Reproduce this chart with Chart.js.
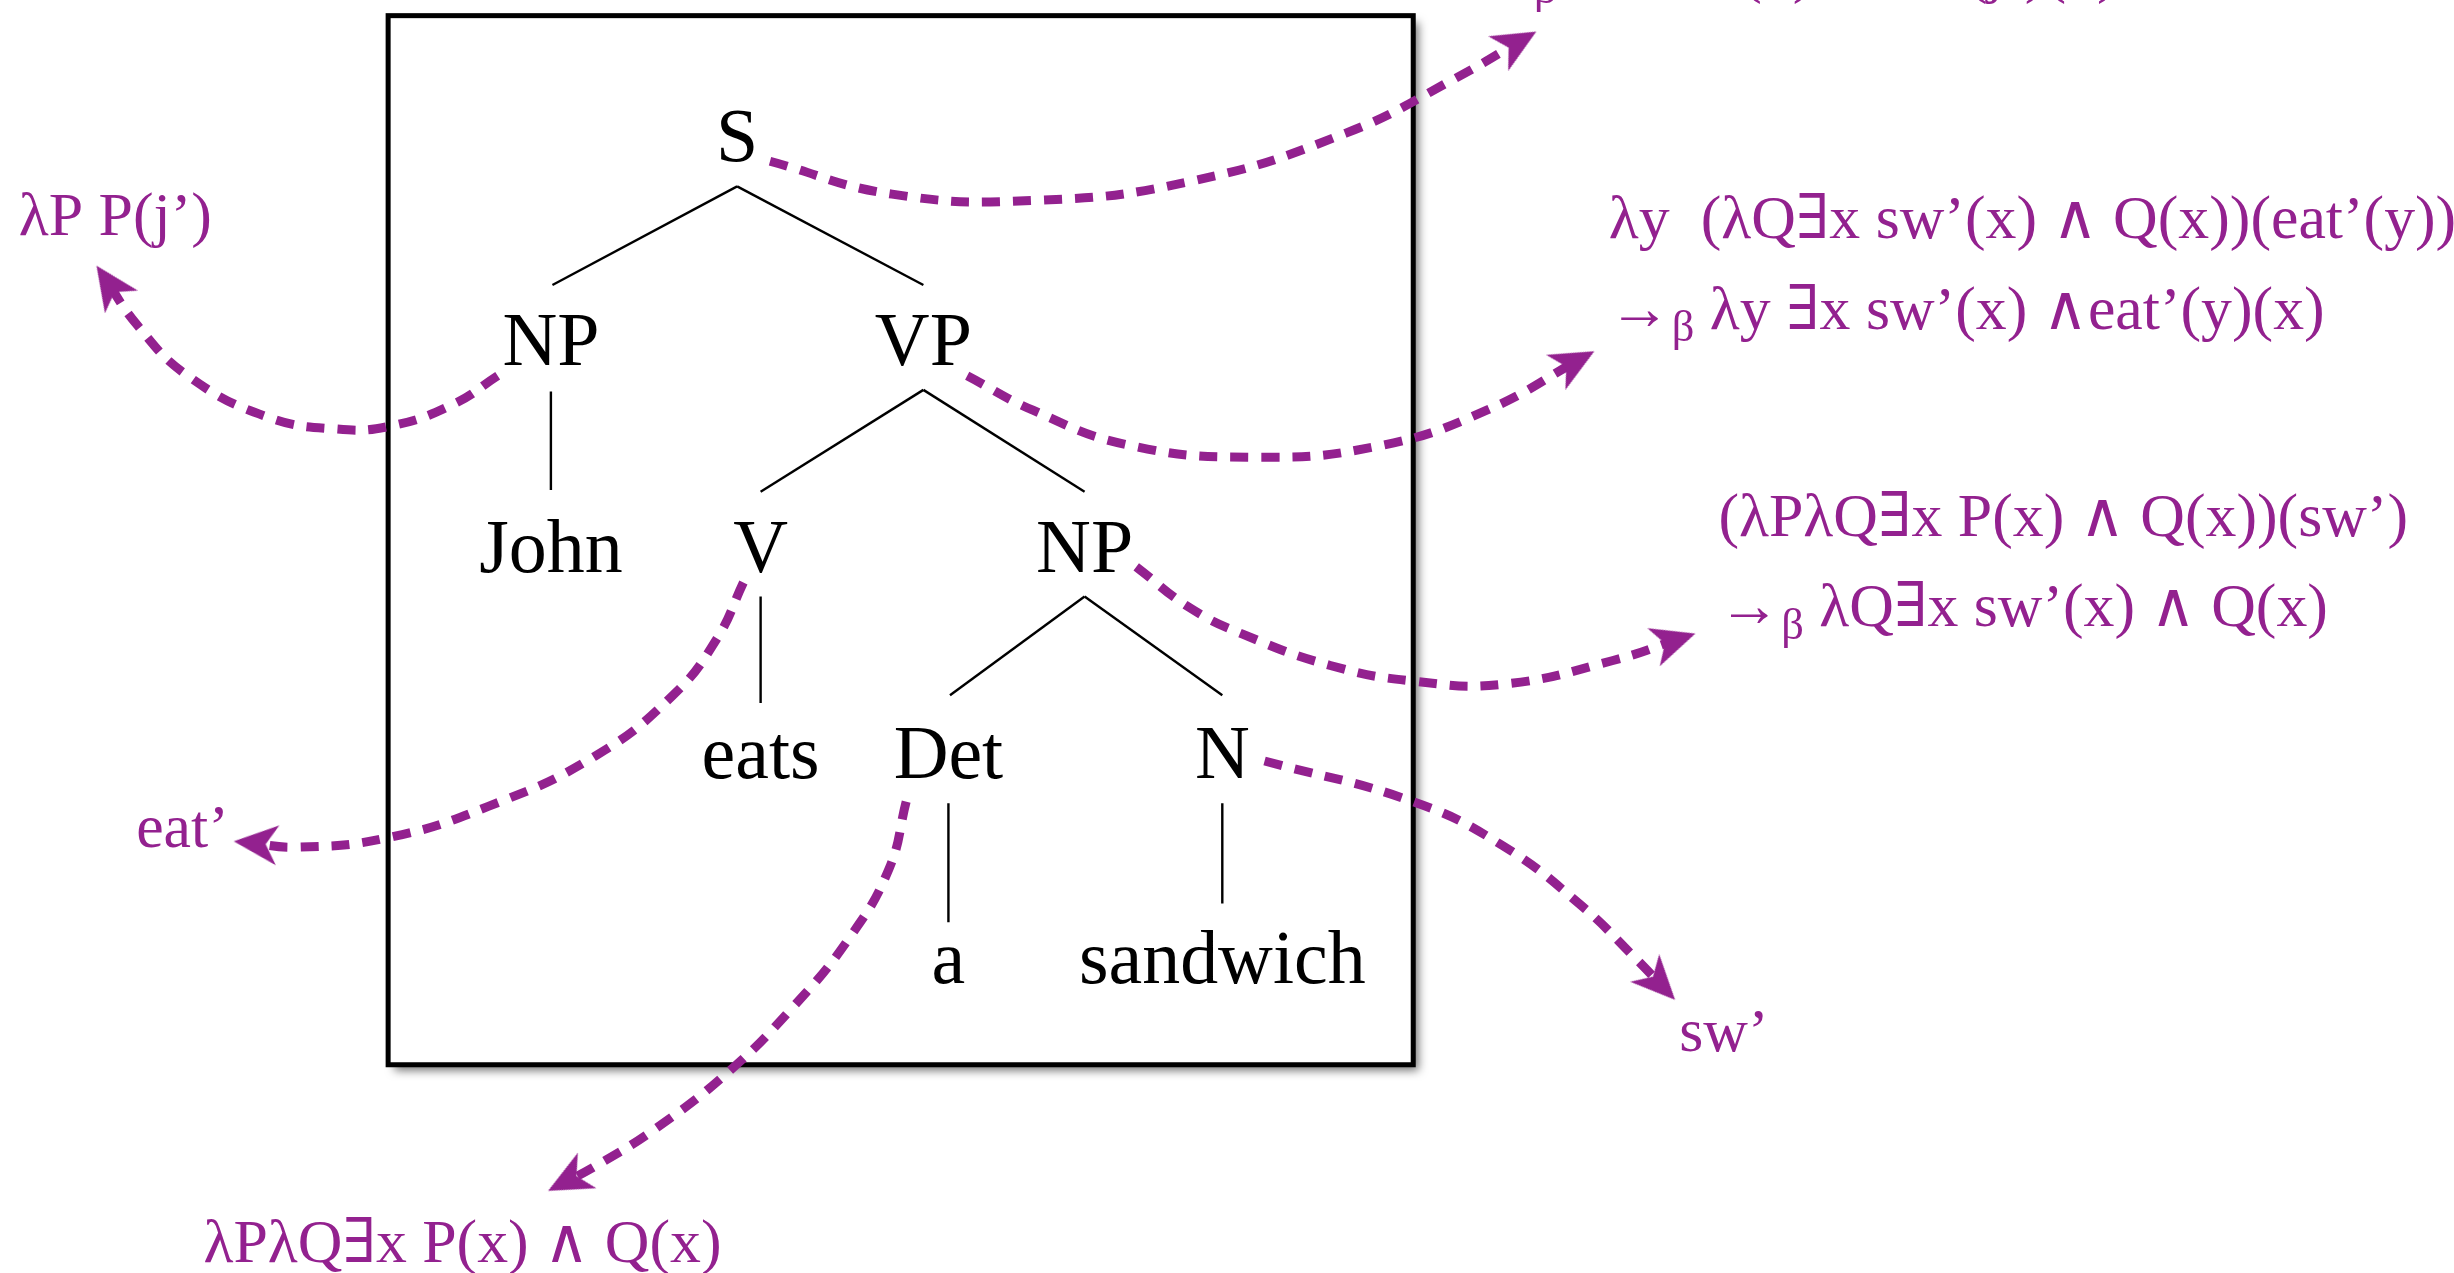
<!DOCTYPE html>
<html>
<head>
<meta charset="utf-8">
<script src="https://cdn.jsdelivr.net/npm/chart.js@4.4.1/dist/chart.umd.min.js"></script>
<style>
  html, body { margin: 0; padding: 0; background: #fff; overflow: hidden; }
  #wrap { width: 100vw; height: 100vh; }
</style>
</head>
<body>
<div id="wrap"><canvas id="tree"></canvas></div>
<script>
// data space: 1568 x 813 units, y grows downwards
const treeLabels = ['S', 'NP', 'VP', 'John', 'V', 'NP', 'eats', 'Det', 'N', 'a', 'sandwich'];
const treeX = [471, 352, 590, 352, 486, 693, 486, 606, 781, 606, 781];
const treeY = [103, 233, 233, 365, 365, 365, 497, 497, 497, 628, 628];

// branch segments [x1, y1, x2, y2]
const branches = [
  [471, 119, 353, 182], [471, 119, 590, 182],
  [352, 250, 352, 313],
  [590, 249, 486, 314], [590, 249, 693, 314],
  [486, 381, 486, 449],
  [693, 381, 607, 444], [693, 381, 781, 444],
  [606, 513, 606, 589], [781, 513, 781, 577]
];

const boxCorners = [[248, 10], [903, 680]];

// dashed arrows, last point is the arrow head
const arrowS = [[492, 103], [570, 124], [660, 128], [760, 116], [860, 85], [930, 50], [975, 24]];
const arrowNP = [[318, 240], [290, 258], [250, 272], [215, 274], [170, 266], [120, 240], [88, 208], [66, 176]];
const arrowVP = [[618, 240], [660, 262], [720, 284], [800, 292], [880, 285], [950, 262], [1012, 228]];
const arrowNP2 = [[726, 362], [760, 388], [794, 405], [850, 425], [903, 435], [960, 437], [1030, 422], [1076, 407]];
const arrowV = [[475, 372], [458, 408], [430, 444], [380, 483], [312, 515], [248, 535], [190, 541], [157, 538]];
const arrowN = [[808, 486], [903, 512], [960, 540], [1010, 578], [1045, 612], [1065, 633]];
const arrowDet = [[579, 512], [568, 555], [542, 600], [505, 645], [466, 684], [420, 720], [380, 745], [357, 757]];
const arrows = [arrowS, arrowNP, arrowVP, arrowNP2, arrowV, arrowN, arrowDet];

const noteTexts = [
  'λP P(j’)',
  'λy  (λQ∃x sw’(x) ∧ Q(x))(eat’(y))',
  '→β λy ∃x sw’(x) ∧eat’(y)(x)',
  '(λPλQ∃x P(x) ∧ Q(x))(sw’)',
  '→β λQ∃x sw’(x) ∧ Q(x)',
  'eat’',
  'sw’',
  'λPλQ∃x P(x) ∧ Q(x)',
  '→β ∃x sw’(x) ∧eat’(j’)(x)'
];
const noteX = [12, 1028, 1028, 1098, 1098, 87, 1073, 130, 940];
const noteY = [150, 152, 210, 342, 400, 541, 671, 806, -6];

const purple = '#93218f';
const k = window.innerWidth / 1568;

function makeHead() {
  const len = 44, wid = 40, notch = 12, off = 12;
  const c = document.createElement('canvas');
  const s = Math.ceil(2 * (len + off) + 4);
  c.width = s; c.height = s;
  const g = c.getContext('2d');
  const cx = s / 2, cy = s / 2;
  g.fillStyle = purple;
  g.beginPath();
  g.moveTo(cx, cy - off);
  g.lineTo(cx + wid / 2, cy - off + len);
  g.lineTo(cx, cy - off + len - notch);
  g.lineTo(cx - wid / 2, cy - off + len);
  g.closePath();
  g.fill();
  return c;
}
const headImg = makeHead();

function isLast(ctx) {
  return ctx.dataIndex === ctx.dataset.data.length - 1;
}

function headRotation(ctx) {
  const pts = ctx.dataset.data;
  const n = pts.length;
  if (ctx.dataIndex !== n - 1) return 0;
  const sx = ctx.chart.scales.x, sy = ctx.chart.scales.y;
  const a = pts[n - 2], b = pts[n - 1];
  const dx = sx.getPixelForValue(b.x) - sx.getPixelForValue(a.x);
  const dy = sy.getPixelForValue(b.y) - sy.getPixelForValue(a.y);
  return Math.atan2(dy, dx) * 180 / Math.PI + 90;
}

const datasets = [];
branches.forEach(b => {
  datasets.push({
    data: [{ x: b[0], y: b[1] }, { x: b[2], y: b[3] }],
    showLine: true,
    borderColor: '#000',
    borderWidth: 2.4,
    pointRadius: 0,
    tension: 0
  });
});
arrows.forEach(pts => {
  datasets.push({
    data: pts.map(p => ({ x: p[0], y: p[1] })),
    showLine: true,
    borderColor: purple,
    borderWidth: 9,
    borderDash: [18, 13],
    borderCapStyle: 'butt',
    tension: 0.45,
    pointRadius: ctx => isLast(ctx) ? 20 : 0,
    pointStyle: ctx => isLast(ctx) ? headImg : 'circle',
    pointRotation: headRotation,
    pointBackgroundColor: purple,
    pointBorderWidth: 0
  });
});

const boxPlugin = {
  id: 'box',
  beforeDatasetsDraw(chart) {
    const { ctx, scales: { x, y } } = chart;
    const x0 = x.getPixelForValue(boxCorners[0][0]);
    const y0 = y.getPixelForValue(boxCorners[0][1]);
    const x1 = x.getPixelForValue(boxCorners[1][0]);
    const y1 = y.getPixelForValue(boxCorners[1][1]);
    ctx.save();
    ctx.shadowColor = 'rgba(0,0,0,0.55)';
    ctx.shadowBlur = 9;
    ctx.shadowOffsetX = 6;
    ctx.shadowOffsetY = 6;
    ctx.fillStyle = '#fff';
    ctx.fillRect(x0, y0, x1 - x0, y1 - y0);
    ctx.restore();
    ctx.save();
    ctx.strokeStyle = '#000';
    ctx.lineWidth = 5;
    ctx.strokeRect(x0, y0, x1 - x0, y1 - y0);
    ctx.restore();
  }
};

function drawNote(ctx, text, px, py, size) {
  const font = s => s + 'px "Liberation Serif", "DejaVu Serif", serif';
  ctx.font = font(size);
  if (text.startsWith('→β')) {
    ctx.fillText('→', px, py);
    px += ctx.measureText('→').width;
    ctx.font = font(size * 0.72);
    ctx.fillText('β', px + 1, py + size * 0.2);
    px += ctx.measureText('β').width + 1;
    ctx.font = font(size);
    text = text.slice(2);
  }
  ctx.fillText(text, px, py);
}

const textPlugin = {
  id: 'labels',
  afterDatasetsDraw(chart) {
    const { ctx, scales: { x, y } } = chart;
    ctx.save();
    ctx.textBaseline = 'alphabetic';
    ctx.fillStyle = '#000';
    ctx.textAlign = 'center';
    ctx.font = (48.5 * k) + 'px "Liberation Serif", "DejaVu Serif", serif';
    treeLabels.forEach((t, i) => {
      ctx.fillText(t, x.getPixelForValue(treeX[i]), y.getPixelForValue(treeY[i]));
    });
    ctx.fillStyle = purple;
    ctx.textAlign = 'left';
    noteTexts.forEach((t, i) => {
      drawNote(ctx, t, x.getPixelForValue(noteX[i]), y.getPixelForValue(noteY[i]), 39.5 * k);
    });
    ctx.restore();
  }
};

new Chart(document.getElementById('tree'), {
  type: 'scatter',
  data: { datasets: datasets },
  options: {
    responsive: true,
    maintainAspectRatio: false,
    animation: false,
    devicePixelRatio: 1,
    events: [],
    layout: { padding: 0, autoPadding: false },
    clip: false,
    plugins: { legend: { display: false }, tooltip: { enabled: false } },
    scales: {
      x: { type: 'linear', min: 0, max: 1568, display: false },
      y: { type: 'linear', min: 0, max: 813, reverse: true, display: false }
    }
  },
  plugins: [boxPlugin, textPlugin]
});
</script>
</body>
</html>
